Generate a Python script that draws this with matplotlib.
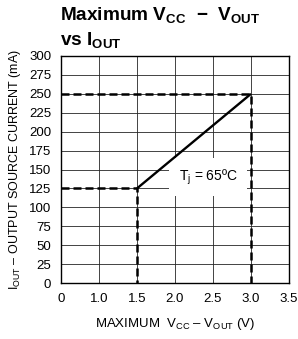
import numpy as np
import matplotlib
matplotlib.use("Agg")
import matplotlib.pyplot as plt

# ---- data ----
x_ticks = [0, 1.0, 1.5, 2.0, 2.5, 3.0, 3.5]
x_tick_labels = ["0", "1.0", "1.5", "2.0", "2.5", "3.0", "3.5"]
y_ticks = list(range(0, 301, 25))
vdrop = [1.5, 3.0]          # MAXIMUM VCC - VOUT (V)
iout = [125, 250]           # IOUT (mA)
annotation = r"T$_\mathregular{j}$ = 65ºC"

plt.rcParams['font.family'] = ['Liberation Sans Narrow', 'Liberation Sans', 'DejaVu Sans']
plt.rcParams['mathtext.fontset'] = 'custom'
plt.rcParams['mathtext.rm'] = 'Liberation Sans Narrow'
plt.rcParams['mathtext.bf'] = 'Liberation Sans:bold'

fig = plt.figure(figsize=(2.98, 3.39), dpi=100)
ax = fig.add_axes([61/298, 1-283/339, 228/298, 227/339])

idx = np.arange(len(x_ticks))
fwd = lambda x: np.interp(x, x_ticks, idx)
inv = lambda p: np.interp(p, idx, x_ticks)
ax.set_xscale('function', functions=(fwd, inv))
ax.set_xlim(x_ticks[0], x_ticks[-1])
ax.set_ylim(y_ticks[0], y_ticks[-1])
ax.set_xticks(x_ticks)
ax.set_xticklabels(x_tick_labels)
ax.set_yticks(y_ticks)
ax.minorticks_off()
ax.tick_params(length=0, labelsize=9.5, pad=7)
ax.grid(True, color='#252525', lw=0.6)
ax.set_axisbelow(True)
for s in ax.spines.values():
    s.set_linewidth(1.0)

# solid characteristic
ax.plot(vdrop, iout, color='black', lw=1.7, solid_capstyle='butt', zorder=4)
# dashed guide lines
for v, i in zip(vdrop, iout):
    ax.plot([x_ticks[0], v, v], [i, i, y_ticks[0]], color='black', lw=1.8,
            dashes=(3.2, 1.6), zorder=3, clip_on=False)

ax.text(2.435, 140, annotation, ha='center', va='center', fontsize=10,
        bbox=dict(boxstyle='square,pad=0.7', fc='white', ec='none'), zorder=3.5)

ax.set_xlabel(r"MAXIMUM  V$_\mathregular{CC}$ – V$_\mathregular{OUT}$ (V)", fontsize=9.5, labelpad=8)
ax.set_ylabel(r"I$_\mathregular{OUT}$ – OUTPUT SOURCE CURRENT (mA)", fontsize=9, labelpad=4)

fig.text(60/298, 1-21/339, "Maximum V$_\\mathbf{CC}$  \u2212  V$_\\mathbf{OUT}$", fontsize=13.7,
         fontweight='bold', family=['Liberation Sans'], ha='left', va='baseline')
fig.text(60/298, 1-46/339, r"vs I$_\mathbf{OUT}$", fontsize=13.7,
         fontweight='bold', family=['Liberation Sans'], ha='left', va='baseline')

fig.savefig("out.png", dpi=100)
